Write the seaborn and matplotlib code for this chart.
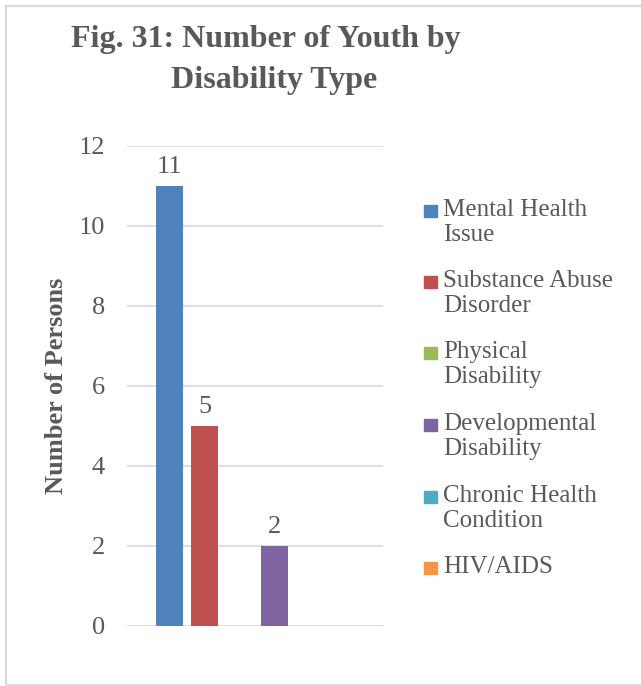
import matplotlib
matplotlib.use("Agg")
import matplotlib.pyplot as plt
import seaborn as sns
import pandas as pd
from matplotlib.patches import Rectangle

# Data
categories = ['Mental Health Issue', 'Substance Abuse Disorder', 'Physical Disability',
              'Developmental Disability', 'Chronic Health Condition', 'HIV/AIDS']
legend_labels = ['Mental Health\nIssue', 'Substance Abuse\nDisorder', 'Physical\nDisability',
                 'Developmental\nDisability', 'Chronic Health\nCondition', 'HIV/AIDS']
counts = [11, 5, 0, 2, 0, 0]
colors = ['#4F81BD', '#C0504D', '#9BBB59', '#8064A2', '#4BACC6', '#F79646']
y_ticks = [0, 2, 4, 6, 8, 10, 12]

df = pd.DataFrame({'group': [''] * len(categories), 'type': categories, 'count': counts})

sns.set_style('white')
plt.rcParams['font.family'] = ['Liberation Serif', 'DejaVu Serif']
text_grey = '#595959'

W, H = 641, 686
fig = plt.figure(figsize=(W / 100, H / 100), dpi=100)
# axes placed in pixel terms
ax = fig.add_axes([127 / W, 1 - 626 / H, 256 / W, 480 / H])

sns.barplot(data=df, x='group', y='count', hue='type', hue_order=categories,
            palette=colors, saturation=1, width=0.82, gap=0.23, linewidth=0,
            legend=False, ax=ax)

ax.set_xlim(-0.508, 0.492)
ax.set_ylim(0, 12)
ax.set_yticks(y_ticks)
ax.set_xticks([])
ax.set_xlabel('')
ax.yaxis.grid(True, color='#D9D9D9', lw=1.2)
ax.set_axisbelow(True)
for s in ax.spines.values():
    s.set_visible(False)
ax.tick_params(axis='y', length=0, pad=16, labelsize=19, labelcolor=text_grey)

ax.set_ylabel('Number of Persons', fontsize=19, fontweight='bold', color=text_grey, va='center')
ax.yaxis.set_label_coords((57 - 127) / 256, 0.5)

# Data labels (skip zero values)
for cont in ax.containers:
    vals = [b.get_height() for b in cont]
    ax.bar_label(cont, labels=[f'{v:.0f}' if v > 0 else '' for v in vals],
                 padding=6, fontsize=19, color=text_grey)

# Title
fig.text(266 / W, 1 - 47 / H, 'Fig. 31: Number of Youth by', ha='center', va='baseline',
         fontsize=23, fontweight='bold', color=text_grey)
fig.text(274 / W, 1 - 88 / H, 'Disability Type', ha='center', va='baseline',
         fontsize=23, fontweight='bold', color=text_grey)

# Legend
leg_top = [201, 272, 343, 415, 487, 558]
for top, lab, c in zip(leg_top, legend_labels, colors):
    fig.patches.append(Rectangle((424 / W, 1 - (top + 16) / H), 12.5 / W, 12.5 / H,
                                 transform=fig.transFigure, color=c, figure=fig))
    fig.text(443 / W, 1 - (top - 2) / H, lab, ha='left', va='top', fontsize=18,
             color=text_grey, linespacing=1.15)

# Chart border (right edge cropped off)
fig.patches.append(Rectangle((6 / W, 1 / H), 700 / W, (H - 7) / H, transform=fig.transFigure,
                             fill=False, edgecolor='#D9D9D9', lw=1.5, figure=fig))

fig.savefig('out.png', dpi=100, facecolor='white')
